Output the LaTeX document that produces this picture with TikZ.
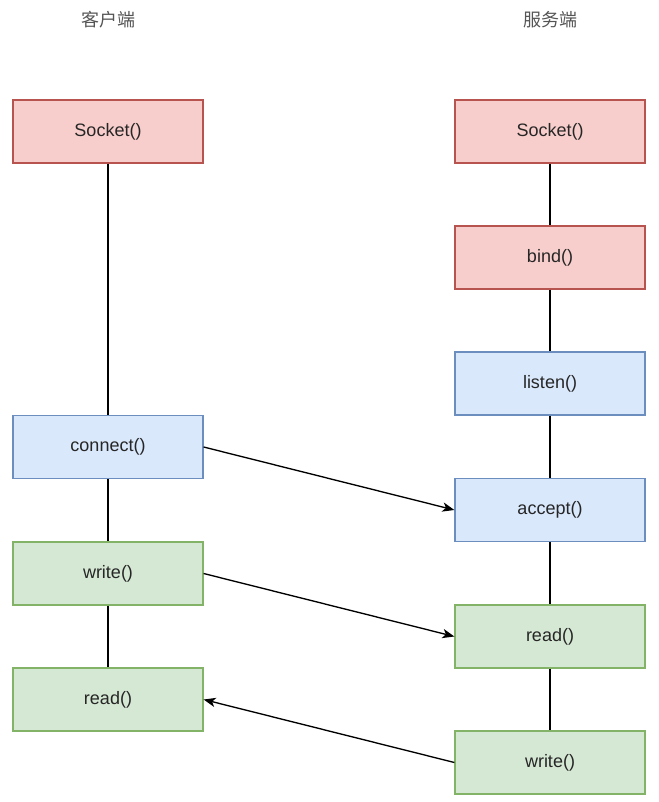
\documentclass[tikz,border=0pt]{standalone}
\usepackage{fontspec}
\setmainfont{Liberation Sans}
\newfontfamily\cjkfont{Noto Sans CJK SC}
\usetikzlibrary{arrows.meta,positioning}
\definecolor{myredfill}{HTML}{F8CECC}
\definecolor{myreddraw}{HTML}{B85450}
\definecolor{mybluefill}{HTML}{DAE8FC}
\definecolor{mybluedraw}{HTML}{6C8EBF}
\definecolor{mygreenfill}{HTML}{D5E8D4}
\definecolor{mygreendraw}{HTML}{82B366}
\definecolor{mytitle}{HTML}{555555}

\begin{document}
\begin{tikzpicture}[
  x=0.75pt, y=-0.75pt,
  line width=0.9pt,
  mybox/.style={
    draw,
    rectangle,
    minimum width=142.5pt,
    minimum height=47.25pt,
    font=\fontsize{13.5}{16}\selectfont,
    text=black!85
    },
  myred/.style={mybox, fill=myredfill, draw=myreddraw},
  myblue/.style={mybox, fill=mybluefill, draw=mybluedraw},
  mygreen/.style={mybox, fill=mygreenfill, draw=mygreendraw},
  mytitle/.style={
    text=mytitle,
    font=\cjkfont\fontsize{13.5}{16}\selectfont
  },
  myarrow/.style={-{Stealth[length=9pt,width=7pt,inset=2.5pt]}, line width=1pt}
]
\useasboundingbox (0,0) rectangle (658,802);

% titles
\node[mytitle] (client) at (108,20) {客户端};
\node[mytitle] (server) at (550,20) {服务端};

% client side
\node[myred] (csocket) at (108,131.5) {Socket()};
\node[myblue] (cconnect) at (108,447) {connect()};
\node[mygreen] (cwrite) at (108,573.5) {write()};
\node[mygreen] (cread) at (108,699.5) {read()};

% server side
\node[myred] (ssocket) at (550,131.5) {Socket()};
\node[myred] (sbind) at (550,257.5) {bind()};
\node[myblue] (slisten) at (550,383.5) {listen()};
\node[myblue] (saccept) at (550,510) {accept()};
\node[mygreen] (sread) at (550,636.5) {read()};
\node[mygreen] (swrite) at (550,762.5) {write()};

% vertical lines
\draw (csocket) -- (cconnect);
\draw (cconnect) -- (cwrite);
\draw (cwrite) -- (cread);
\foreach \a/\b in {ssocket/sbind, sbind/slisten, slisten/saccept, saccept/sread, sread/swrite}
  \draw (\a) -- (\b);

% messages
\draw[myarrow] (cconnect.east) -- (saccept.west);
\draw[myarrow] (cwrite.east) -- (sread.west);
\draw[myarrow] (swrite.west) -- (cread.east);

\end{tikzpicture}
\end{document}
